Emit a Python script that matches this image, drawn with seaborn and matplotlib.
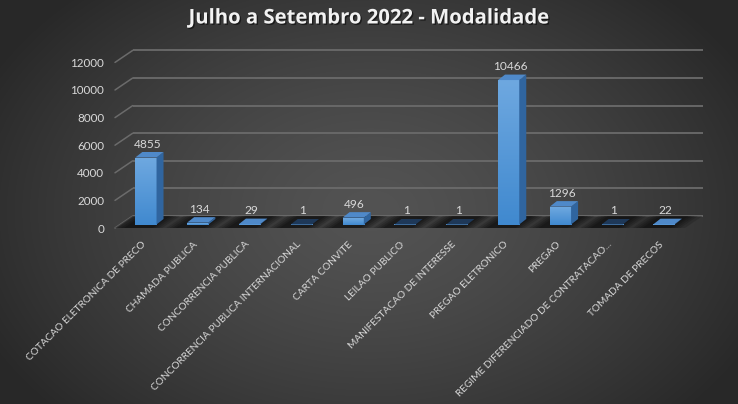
import numpy as np
import pandas as pd
import matplotlib
matplotlib.use("Agg")
import matplotlib.pyplot as plt
import seaborn as sns
from matplotlib.patches import Polygon
from matplotlib.colors import LinearSegmentedColormap
from matplotlib import font_manager
import matplotlib.patheffects as pe

# ---------------- data ----------------
categories = [
    "COTACAO ELETRONICA DE PRECO",
    "CHAMADA PUBLICA",
    "CONCORRENCIA PUBLICA",
    "CONCORRENCIA PUBLICA INTERNACIONAL",
    "CARTA CONVITE",
    "LEILAO PUBLICO",
    "MANIFESTACAO DE INTERESSE",
    "PREGAO ELETRONICO",
    "PREGAO",
    "REGIME DIFERENCIADO DE CONTRATACAO...",
    "TOMADA DE PRECOS",
]
values = [4855, 134, 29, 1, 496, 1, 1, 10466, 1296, 1, 22]
y_ticks = [0, 2000, 4000, 6000, 8000, 10000, 12000]
title = "Julho a Setembro 2022 - Modalidade"

# ---------------- layout ----------------
W, H, DPI = 738, 404, 100
sns.set_theme(style="dark")
plt.rcParams["font.family"] = ["Lato", "DejaVu Sans"]
TXT = "#d9d9d9"

try:
    font_manager.findfont(font_manager.FontProperties(family="Liberation Sans Narrow"),
                          fallback_to_default=False)
    XFAM, XSIZE = ["Liberation Sans Narrow", "DejaVu Sans"], 8.2
except Exception:
    XFAM, XSIZE = ["Lato", "DejaVu Sans"], 7.3

fig = plt.figure(figsize=(W / DPI, H / DPI), dpi=DPI)

# background radial gradient
bg = fig.add_axes([0, 0, 1, 1], zorder=-10)
yy, xx = np.mgrid[0:H, 0:W]
r = np.sqrt(((xx - 370) / 430.0) ** 2 + ((yy - 210) / 300.0) ** 2)
r = np.clip(r, 0, 1)
c = 0x53 / 255 * (1 - r ** 1.4) + 0x28 / 255 * (r ** 1.4)
bg.imshow(np.dstack([c, c, c]), extent=[0, W, H, 0], aspect="auto")
bg.set_xlim(0, W)
bg.set_ylim(H, 0)
bg.axis("off")

# bar plane axes (pixels: x 120..690, y 224.5 (0) .. 58.9 (12000))
ax_l, ax_r, ax_b, ax_t = 120, 690, 224.5, 58.9
ax = fig.add_axes([ax_l / W, 1 - ax_b / H, (ax_r - ax_l) / W, (ax_b - ax_t) / H])
ax.set_facecolor("none")
for s in ax.spines.values():
    s.set_visible(False)

df = pd.DataFrame({"Modalidade": categories, "Total": values})
sns.barplot(data=df, x="Modalidade", y="Total", color="#5b9bd5", width=0.41,
            saturation=1, ax=ax, zorder=5, errorbar=None, linewidth=0)
XMIN, XMAX, YMAX = -0.5, 10.5, 12000
ax.set_xlim(XMIN, XMAX)
ax.set_ylim(0, YMAX)

PX = (XMAX - XMIN) / (ax_r - ax_l)     # data units per pixel (x)
PY = YMAX / (ax_b - ax_t)              # data units per pixel (y)
FX, FY = -5 * PX, -3.5 * PY            # front plane offset
BX, BY = 12.7 * PX, 8.5 * PY           # back plane offset
DX, DY = 7 * PX, 5.5 * PY              # bar depth

# floor
floor = Polygon([(XMIN + FX, FY), (XMAX + FX, FY), (XMAX + BX, BY), (XMIN + BX, BY)],
                closed=True, facecolor="#262626", alpha=0.5, edgecolor="none",
                zorder=1, clip_on=False)
ax.add_patch(floor)

# back wall gridlines + left diagonals
for v in y_ticks:
    ax.plot([XMIN + BX, XMAX + BX], [v + BY, v + BY], color="#6b6b6b", lw=1.3,
            clip_on=False, zorder=0.5, solid_capstyle="butt")
    ax.plot([XMIN + FX, XMIN + BX], [v + FY, v + BY], color="#6b6b6b", lw=1.1,
            clip_on=False, zorder=0.5)

# floor shadows
for i in range(len(categories)):
    for k, a in zip([0.46, 0.40, 0.34, 0.28], [0.18, 0.2, 0.24, 0.28]):
        x0, x1 = i - k - 0.05, i + k - 0.05
        sh = Polygon([(x0 + FX, FY), (x1 + FX, FY), (x1 + BX, BY), (x0 + BX, BY)],
                     closed=True, facecolor="#0a0a0a", alpha=a, edgecolor="none",
                     zorder=2, clip_on=False)
        ax.add_patch(sh)

# 3D bars: gradient front, side and top faces
grad = np.linspace(0, 1, 64).reshape(-1, 1)
cmap = LinearSegmentedColormap.from_list("b", ["#4089cf", "#6ea8e0"])
for p, v in zip(ax.patches[:len(values)], values):
    x0, w, h = p.get_x(), p.get_width(), p.get_height()
    p.set_clip_on(False)
    if h > 0:
        im = ax.imshow(grad, extent=[x0, x0 + w, 0, h], origin="lower", aspect="auto",
                       cmap=cmap, zorder=5.1, interpolation="bilinear")
        im.set_clip_path(p)
    side = Polygon([(x0 + w, 0), (x0 + w + DX, DY), (x0 + w + DX, h + DY), (x0 + w, h)],
                   closed=True, facecolor="#30659f", edgecolor="none", zorder=5.2,
                   clip_on=False)
    top_col = "#4f89c9" if v > 5 else "#1e3858"
    top = Polygon([(x0, h), (x0 + w, h), (x0 + w + DX, h + DY), (x0 + DX, h + DY)],
                  closed=True, facecolor=top_col, edgecolor="none", zorder=5.3,
                  clip_on=False)
    ax.add_patch(side)
    ax.add_patch(top)
    ax.text(x0 + w / 2 + 1.5 * PX, h + 13.5 * PY, f"{v}", ha="center", va="center",
            fontsize=8.6, color=TXT, zorder=6, clip_on=False)
ax.set_xlim(XMIN, XMAX)
ax.set_ylim(0, YMAX)

# ticks
ax.set_yticks(y_ticks)
ax.set_yticklabels([str(t) for t in y_ticks], fontsize=8.4, color=TXT)
ax.tick_params(axis="y", length=0, pad=11.5)
for lab in ax.get_yticklabels():
    lab.set_transform(lab.get_transform() +
                      matplotlib.transforms.ScaledTranslation(0, -3.5 / DPI, fig.dpi_scale_trans))
ax.set_xticks(range(len(categories)))
ax.set_xticklabels(categories, rotation=45, ha="right", rotation_mode="anchor",
                   fontsize=XSIZE, color=TXT, family=XFAM)
ax.tick_params(axis="x", length=0, pad=11)
for lab in ax.get_xticklabels():
    lab.set_transform(lab.get_transform() +
                      matplotlib.transforms.ScaledTranslation(-5 / DPI, 0, fig.dpi_scale_trans))
ax.set_xlabel("")
ax.set_ylabel("")
ax.grid(False)

fig.text(0.5, 1 - 23.5 / H, title, ha="center", va="baseline", fontsize=14.6,
         fontweight="bold", color="#f2f2f2", family=["Open Sans", "DejaVu Sans"],
         path_effects=[pe.withSimplePatchShadow(offset=(1, -1), shadow_rgbFace="black", alpha=0.5)])

fig.savefig("out.png", dpi=DPI)
